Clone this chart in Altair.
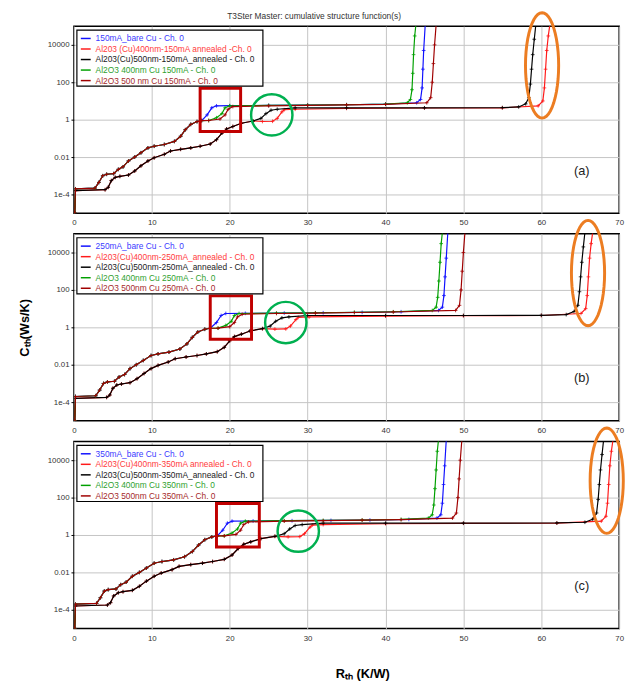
import math
import altair as alt
import pandas as pd

FONT = "Liberation Sans"

chart_title = "T3Ster Master: cumulative structure function(s)"

# ---------------- axis ticks ----------------
x_tick_values = [0, 10, 20, 30, 40, 50, 60, 70]
y_tick_values = [1e-4, 1e-2, 1, 1e2, 1e4]
y_tick_labels = ["1e-4", "0.01", "1", "100", "10000"]

# ---------------- series ----------------
series_keys = ["bare", "ann400", "ann500", "al400", "al500"]
line_colors = ["#1010ff", "#ff1a1a", "#000000", "#00a000", "#a00000"]
text_colors = ["#3c3cff", "#ff3c3c", "#1a1a1a", "#2f9f2f", "#a52a2a"]

legend_a = ["150mA_bare Cu - Ch. 0",
            "Al203 (Cu)400nm-150mA  annealed -Ch. 0",
            "Al203(Cu)500nm-150mA_annealed - Ch. 0",
            "Al2O3 400nm Cu 150mA - Ch. 0",
            "Al2O3 500 nm Cu 150mA - Ch. 0"]
legend_b = ["250mA_bare Cu - Ch. 0",
            "Al203(Cu)400nm-250mA_annealed - Ch. 0",
            "Al203(Cu)500nm-250mA_annealed - Ch. 0",
            "Al2O3 400nm Cu 250mA - Ch. 0",
            "Al2O3 500nm Cu 250mA - Ch. 0"]
legend_c = ["350mA_bare Cu - Ch. 0",
            "Al203(Cu)400nm-350mA  annealed - Ch. 0",
            "Al203(Cu)500nm-350mA_annealed - Ch. 0",
            "Al2O3 400nm Cu 350nm - Ch. 0",
            "Al2O3 500nm Cu 350mA - Ch. 0"]

# C values (Ws/K)
g1_low_C = [1e-5, 2.0e-4, 2.2e-4, 4.4e-4, 1.0e-3, 1.2e-3, 1.3e-3, 2.2e-3, 3.0e-3, 6.2e-3,
            1.0e-2, 1.7e-2, 3.1e-2, 3.8e-2, 4.7e-2, 6.9e-2, 0.13, 0.29, 0.56, 0.79, 0.89]
blue_tail_C = [1.8, 4.3, 5.5, 5.6, 5.8, 6.0, 6.3, 6.8, 8.0, 12, 50, 500, 5000, 1.2e5]
green_tail_C = [0.9, 1.27, 2.1, 4.3, 5.5, 5.8, 6.0, 6.3, 6.8, 8.0, 12, 40, 300, 3000, 3e4, 1.2e5]
dred_tail_C = [0.9, 1.08, 1.8, 3.6, 5.0, 5.5, 5.8, 6.2, 6.6, 8.0, 15, 100, 1000, 1e4, 1.2e5]
ann_low_C = [1e-5, 1.6e-4, 1.8e-4, 2.4e-4, 5.5e-4, 8.2e-4, 9.3e-4, 1.1e-3, 1.8e-3, 3.4e-3,
             6.2e-3, 9.2e-3, 1.4e-2, 2.1e-2, 2.6e-2, 3.1e-2, 3.8e-2, 5.0e-2, 8.5e-2, 0.19,
             0.32, 0.43, 0.64, 0.85]
black_tail_C = [1.17, 2.1, 3.2, 3.6, 4.3, 4.3, 4.3, 4.4, 4.8, 7.0, 15, 80, 500, 3000, 2e4, 1.2e5]
red_tail_C = [0.8, 0.82, 1.17, 2.6, 3.4, 3.6, 4.0, 4.2, 4.3, 5.5, 10, 50, 500, 5000, 3e4, 1.2e5]

# R values (K/W), panel (a) 150 mA
a_g1_low_R = [0.1, 0.2, 2.7, 3.2, 3.7, 4.2, 5.1, 5.7, 6.3, 7.0, 7.8, 8.6, 9.5, 10.3, 11.6,
              12.9, 13.7, 14.3, 15.0, 15.8, 16.4]
a_blue_R = [17.1, 17.7, 18.3, 20.0, 25.0, 30.0, 35.0, 40.0, 44.0, 44.5, 44.7, 44.8, 44.9, 45.1]
a_green_R = [17.3, 18.3, 19.0, 19.4, 20.0, 25.0, 30.0, 35.0, 40.0, 42.8, 43.2, 43.4, 43.5,
             43.6, 43.75, 43.9]
a_dred_R = [17.3, 18.75, 19.4, 19.8, 20.4, 25.0, 30.0, 35.0, 40.0, 45.3, 45.8, 46.0, 46.15,
            46.3, 46.5]
a_ann_low_R = [0.1, 0.2, 4.0, 4.4, 4.8, 5.3, 5.9, 7.0, 7.8, 8.6, 9.5, 10.3, 11.6, 12.4, 13.7,
               15.0, 16.2, 17.5, 18.3, 19.0, 19.6, 20.4, 21.5, 23.0]
a_black_R = [24.0, 24.65, 25.3, 26.1, 28.4, 35.0, 45.0, 55.0, 57.1, 58.0, 58.4, 58.6, 58.75,
             58.9, 59.1, 59.3]
a_red_R = [24.2, 25.5, 26.1, 26.7, 27.0, 28.4, 35.0, 45.0, 55.0, 59.6, 60.2, 60.4, 60.55,
           60.7, 60.9, 61.1]

# panel (b) 250 mA
b_g1_low_R = [0.1, 0.2, 2.8, 3.3, 3.8, 4.3, 5.2, 5.8, 6.5, 7.2, 8.0, 8.9, 9.9, 10.8, 12.2,
              13.6, 14.5, 15.2, 15.9, 16.8, 17.5]
b_blue_R = [18.3, 18.9, 19.5, 22.0, 27.0, 32.0, 37.0, 42.0, 46.8, 47.3, 47.5, 47.65, 47.8, 48.0]
b_green_R = [18.5, 19.5, 20.2, 20.6, 21.2, 26.0, 31.0, 36.0, 41.0, 46.0, 46.5, 46.7, 46.85,
             47.0, 47.15, 47.3]
b_dred_R = [18.5, 20.0, 20.6, 21.0, 21.6, 26.0, 31.0, 36.0, 41.0, 49.0, 49.5, 49.7, 49.85,
            50.0, 50.2]
b_ann_low_R = [0.1, 0.2, 4.2, 4.6, 5.0, 5.5, 6.1, 7.2, 8.1, 9.0, 9.9, 10.8, 12.1, 13.0, 14.4,
               15.8, 17.0, 18.4, 19.3, 20.0, 20.6, 21.5, 22.6, 24.2]
b_black_R = [25.2, 25.9, 26.7, 27.6, 30.0, 40.0, 50.0, 60.0, 63.2, 64.2, 64.7, 64.9, 65.05,
             65.2, 65.4, 65.6]
b_red_R = [25.8, 27.2, 27.8, 28.5, 28.8, 30.2, 40.0, 50.0, 60.0, 65.1, 65.7, 65.9, 66.05,
           66.2, 66.4, 66.6]

# panel (c) 350 mA
c_g1_low_R = [0.1, 0.2, 2.9, 3.4, 3.9, 4.4, 5.4, 6.0, 6.7, 7.5, 8.4, 9.3, 10.3, 11.3, 12.8,
              14.2, 15.2, 16.0, 16.8, 17.7, 18.4]
c_blue_R = [19.1, 19.7, 20.3, 23.0, 28.0, 33.0, 38.0, 43.0, 46.6, 47.1, 47.3, 47.45, 47.6, 47.8]
c_green_R = [19.3, 20.3, 21.0, 21.4, 22.0, 27.0, 32.0, 37.0, 42.0, 45.5, 46.0, 46.2, 46.35,
             46.5, 46.65, 46.8]
c_dred_R = [19.3, 20.8, 21.4, 21.8, 22.4, 27.0, 32.0, 37.0, 42.0, 48.6, 49.1, 49.3, 49.45,
            49.6, 49.8]
c_ann_low_R = [0.1, 0.2, 4.3, 4.7, 5.1, 5.7, 6.3, 7.5, 8.4, 9.3, 10.3, 11.2, 12.6, 13.5, 15.0,
               16.5, 17.8, 19.3, 20.3, 21.1, 21.8, 22.7, 24.0, 25.8]
c_black_R = [27.0, 27.7, 28.4, 29.3, 32.0, 40.0, 50.0, 62.0, 65.6, 66.6, 67.1, 67.3, 67.45,
             67.6, 67.8, 68.0]
c_red_R = [27.5, 29.0, 29.6, 30.3, 30.6, 32.0, 40.0, 50.0, 62.0, 67.7, 68.3, 68.5, 68.65,
           68.8, 69.0, 69.2]

# annotations: red box [R1, R2, C1, C2], green circle [R, C], orange ellipse [R, C]
box_a, circle_a, ellipse_a = [16.2, 21.4, 0.23, 48], [25.4, 1.8], [60.1, 800]
box_b, circle_b, ellipse_b = [17.5, 22.8, 0.23, 48], [27.2, 1.8], [66.0, 800]
box_c, circle_c, ellipse_c = [18.3, 23.8, 0.23, 48], [28.8, 1.6], [68.4, 800]

# ---------------- build ----------------
xs = alt.Scale(domain=[0, 70], nice=False, zero=False)
ys = alt.Scale(type="log", domain=[1e-5, 1e5], nice=False)

label_expr = "".join(
    f"datum.value < {v * 10} ? '{lab}' : " for v, lab in zip(y_tick_values[:-1], y_tick_labels[:-1])
) + f"'{y_tick_labels[-1]}'"

PLUS = "M-1,0L1,0M0,-1L0,1"
# ellipse outline (marker shape) as a closed polygon inside the unit square
_pts = [(0.315 * math.sin(2 * math.pi * k / 48), -math.cos(2 * math.pi * k / 48)) for k in range(48)]
ELLIPSE = "M" + "L".join(f"{px:.4f},{py:.4f}" for px, py in _pts) + "Z"

W, H = 554, 190


def make_panel(g1_low, blue, green, dred, ann_low, black, red, legend, box, circle, ellipse,
               tag, ytitle, xtitle, top_title=None):
    curves = {
        "bare": (g1_low + blue, g1_low_C + blue_tail_C),
        "ann400": (ann_low + red, ann_low_C + red_tail_C),
        "ann500": (ann_low + black, ann_low_C + black_tail_C),
        "al400": (g1_low + green, g1_low_C + green_tail_C),
        "al500": (g1_low + dred, g1_low_C + dred_tail_C),
    }
    xaxis_kw = dict(values=x_tick_values, grid=True, gridColor="#c4c4c4", ticks=False,
                    domain=False, labelFontSize=8, labelColor="#333", labelPadding=6,
                    labelFont=FONT, labelFlush=False)
    if xtitle:
        xaxis = alt.Axis(title=xtitle, titleFontSize=13, titleFontWeight="bold",
                         titleFont=FONT, titleColor="#000", titlePadding=26, titleX=293,
                         **xaxis_kw)
    else:
        xaxis = alt.Axis(title=None, **xaxis_kw)
    yaxis_kw = dict(values=y_tick_values, labelExpr=label_expr, grid=True, gridColor="#c4c4c4",
                    tickSize=3, tickColor="#000", domain=False, labelFontSize=8,
                    labelColor="#333", labelPadding=2, labelFont=FONT,
                    minExtent=26, maxExtent=26)
    if ytitle:
        yaxis = alt.Axis(title=ytitle, titleFontSize=13, titleFontWeight="bold",
                         titleFont=FONT, titleColor="#000", titlePadding=17, **yaxis_kw)
    else:
        yaxis = alt.Axis(title=None, **yaxis_kw)

    layers = []
    first = True
    for key, col in zip(series_keys, line_colors):
        R, C = curves[key]
        df = pd.DataFrame({"R": R, "C": C, "i": list(range(len(R)))})
        base = alt.Chart(df)
        if first:
            enc = dict(x=alt.X("R:Q", scale=xs, axis=xaxis), y=alt.Y("C:Q", scale=ys, axis=yaxis))
            first = False
        else:
            enc = dict(x=alt.X("R:Q", scale=xs), y=alt.Y("C:Q", scale=ys))
        layers.append(base.mark_line(color=col, strokeWidth=1.2, clip=True)
                      .encode(order="i:Q", **enc))
        layers.append(base.mark_point(shape=PLUS, size=14, strokeWidth=0.8, color=col,
                                      filled=False, opacity=1, clip=True)
                      .encode(x="R:Q", y="C:Q"))

    bdf = pd.DataFrame({"R": [box[0]], "R2": [box[1]], "C": [box[2]], "C2": [box[3]]})
    layers.append(alt.Chart(bdf).mark_rect(fillOpacity=0, stroke="#c00000", strokeWidth=3)
                  .encode(x="R:Q", x2="R2:Q", y="C:Q", y2="C2:Q"))
    cdf = pd.DataFrame({"R": [circle[0]], "C": [circle[1]]})
    layers.append(alt.Chart(cdf).mark_point(shape="circle", size=1764, filled=False,
                                            stroke="#00b050", strokeWidth=2.5, opacity=1)
                  .encode(x="R:Q", y="C:Q"))
    edf = pd.DataFrame({"R": [ellipse[0]], "C": [ellipse[1]]})
    layers.append(alt.Chart(edf).mark_point(shape=ELLIPSE, size=11449, filled=False,
                                            stroke="#ec7d22", strokeWidth=3, opacity=1)
                  .encode(x="R:Q", y="C:Q"))
    tdf = pd.DataFrame({"t": [tag]})
    layers.append(alt.Chart(tdf).mark_text(fontSize=13, font=FONT, color="#222",
                                           align="center", baseline="middle")
                  .encode(x=alt.value(516), y=alt.value(147), text="t:N"))

    # legend box
    one = pd.DataFrame({"a": [0]})
    layers.append(alt.Chart(one).mark_rect(fill="white", stroke="black", strokeWidth=1.2)
                  .encode(x=alt.value(3), x2=alt.value(192), y=alt.value(4), y2=alt.value(61)))
    for k, (lab, lc, tc) in enumerate(zip(legend, line_colors, text_colors)):
        yy = 12.5 + 10.7 * k
        layers.append(alt.Chart(one).mark_rule(color=lc, strokeWidth=1.5)
                      .encode(x=alt.value(7), x2=alt.value(17), y=alt.value(yy)))
        ldf = pd.DataFrame({"t": [lab]})
        layers.append(alt.Chart(ldf).mark_text(fontSize=8.5, font=FONT, color=tc,
                                               align="left", baseline="middle")
                      .encode(x=alt.value(22), y=alt.value(yy), text="t:N"))

    if top_title:
        ttl = pd.DataFrame({"t": [top_title]})
        layers.append(alt.Chart(ttl).mark_text(fontSize=8.5, font=FONT, color="#333",
                                               align="center", baseline="middle")
                      .encode(x=alt.value(244), y=alt.value(-10), text="t:N"))

    return alt.layer(*layers).properties(width=W, height=H)


pa = make_panel(a_g1_low_R, a_blue_R, a_green_R, a_dred_R, a_ann_low_R, a_black_R, a_red_R,
                legend_a, box_a, circle_a, ellipse_a, "(a)", None, None, chart_title)
pb = make_panel(b_g1_low_R, b_blue_R, b_green_R, b_dred_R, b_ann_low_R, b_black_R, b_red_R,
                legend_b, box_b, circle_b, ellipse_b, "(b)", "Cₜₕ(Ws/K)", None)
pc = make_panel(c_g1_low_R, c_blue_R, c_green_R, c_dred_R, c_ann_low_R, c_black_R, c_red_R,
                legend_c, box_c, circle_c, ellipse_c, "(c)", None, "Rₜₕ (K/W)")

chart = (
    alt.vconcat(pa, pb, pc, spacing=21, bounds="flush")
    .configure(padding={"left": 10, "top": -8, "right": 0, "bottom": 0}, font=FONT)
    .configure_view(stroke="black", strokeWidth=1.5)
)

chart.save("out.html", embed_options={"renderer": "svg", "actions": False})
